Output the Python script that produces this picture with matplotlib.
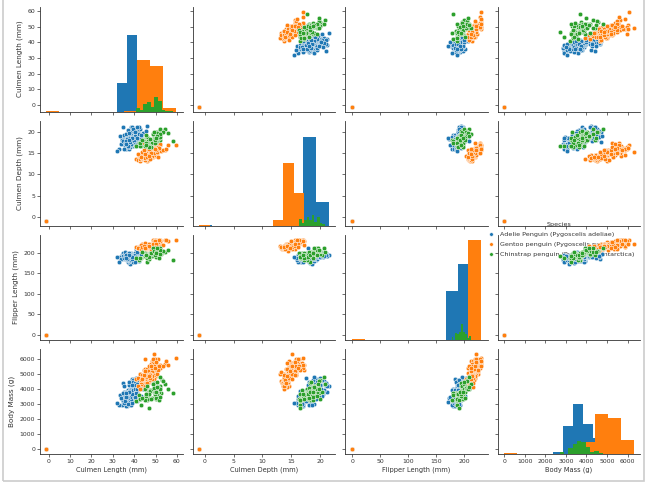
# Pairplot das medidas dos pinguins (dados ausentes preenchidos com -1)
import matplotlib
matplotlib.use('Agg')
import matplotlib.pyplot as plt
from matplotlib.lines import Line2D
from matplotlib.patches import Rectangle
from matplotlib.ticker import MultipleLocator

species = ['Adelie Penguin (Pygoscelis adeliae)',
           'Gentoo penguin (Pygoscelis papua)',
           'Chinstrap penguin (Pygoscelis antarctica)']
colors = ['#1f77b4', '#ff7f0e', '#2ca02c']
variables = ['Culmen Length (mm)', 'Culmen Depth (mm)', 'Flipper Length (mm)', 'Body Mass (g)']
tick_steps = [10, 5, 50, 1000]

#####  Adelie  #####
adelie_length = [
    39.1, 39.5, 40.3, -1, 36.7, 39.3, 38.9, 39.2, 34.1, 42.0,
    37.8, 37.8, 41.1, 38.6, 34.6, 36.6, 38.7, 42.5, 34.4, 46.0,
    37.8, 37.7, 35.9, 38.2, 38.8, 35.3, 40.6, 40.5, 37.9, 40.5,
    39.5, 37.2, 39.5, 40.9, 36.4, 39.2, 38.8, 42.2, 37.6, 39.8,
    36.5, 40.8, 36.0, 44.1, 37.0, 39.6, 41.1, 37.5, 36.0, 42.3,
    39.6, 40.1, 35.0, 42.0, 34.5, 41.4, 39.0, 40.6, 36.5, 37.6,
    35.7, 41.3, 37.6, 41.1, 36.4, 41.6, 35.5, 41.1, 35.9, 41.8,
    33.5, 39.7, 39.6, 45.8, 35.5, 42.8, 40.9, 37.2, 36.2, 42.1,
    34.6, 42.9, 36.7, 35.1, 37.3, 41.3, 36.3, 36.9, 38.3, 38.9,
    35.7, 41.1, 34.0, 39.6, 36.2, 40.8, 38.1, 40.3, 33.1, 43.2,
    35.0, 41.0, 37.7, 37.8, 37.9, 39.7, 38.6, 38.2, 38.1, 43.2,
    38.1, 45.6, 39.7, 42.2, 39.6, 42.7, 38.6, 37.3, 35.7, 41.1,
    36.2, 37.7, 40.2, 41.4, 35.2, 40.6, 38.8, 41.5, 39.0, 44.1,
    38.5, 43.1, 36.8, 37.5, 38.1, 41.1, 35.6, 40.2, 37.0, 39.7,
    40.2, 40.6, 32.1, 40.7, 37.3, 39.0, 39.2, 36.6, 36.0, 37.8,
    36.0, 41.5]
adelie_depth = [
    18.7, 17.4, 18.0, -1, 19.3, 20.6, 17.8, 19.6, 18.1, 20.2,
    17.1, 17.3, 17.6, 21.2, 21.1, 17.8, 19.0, 20.7, 18.4, 21.5,
    18.3, 18.7, 19.2, 18.1, 17.2, 18.9, 18.6, 17.9, 18.6, 18.9,
    16.7, 18.1, 17.8, 18.9, 17.0, 21.1, 20.0, 18.5, 19.3, 19.1,
    18.0, 18.4, 18.5, 19.7, 16.9, 18.8, 19.0, 18.9, 17.9, 21.2,
    17.7, 18.9, 17.9, 19.5, 18.1, 18.6, 17.5, 18.8, 16.6, 19.1,
    16.9, 21.1, 17.0, 18.2, 17.1, 18.0, 16.2, 19.1, 16.6, 19.4,
    19.0, 18.4, 17.2, 18.9, 17.5, 18.5, 16.8, 19.4, 16.1, 19.1,
    17.2, 17.6, 18.8, 19.4, 17.8, 20.3, 19.5, 18.6, 19.2, 18.8,
    18.0, 18.1, 17.1, 18.1, 17.3, 18.9, 18.6, 18.5, 16.1, 18.5,
    17.9, 20.0, 16.0, 20.0, 18.6, 18.9, 17.2, 20.0, 17.0, 19.0,
    16.5, 20.3, 17.7, 19.5, 20.7, 18.3, 17.0, 20.5, 17.0, 18.6,
    17.2, 19.8, 17.0, 18.5, 15.9, 19.0, 17.6, 18.3, 17.1, 18.0,
    17.9, 19.2, 18.5, 18.5, 17.6, 17.5, 17.5, 20.1, 16.5, 17.9,
    17.1, 17.2, 15.5, 17.0, 16.8, 18.7, 18.6, 18.4, 17.8, 18.1,
    17.1, 18.5]
adelie_flipper = [
    181, 186, 195, -1, 193, 190, 181, 195, 193, 190,
    186, 180, 182, 191, 198, 185, 195, 197, 184, 194,
    174, 180, 189, 185, 180, 187, 183, 187, 172, 180,
    178, 178, 188, 184, 195, 196, 190, 180, 181, 184,
    182, 195, 186, 196, 185, 190, 182, 179, 190, 191,
    186, 188, 190, 200, 187, 191, 186, 193, 181, 194,
    185, 195, 185, 192, 184, 192, 195, 188, 190, 198,
    190, 190, 196, 197, 190, 195, 191, 184, 187, 195,
    189, 196, 187, 193, 191, 194, 190, 189, 189, 190,
    202, 205, 185, 186, 187, 208, 190, 196, 178, 192,
    192, 203, 183, 190, 193, 184, 199, 190, 181, 197,
    198, 191, 193, 197, 191, 196, 188, 199, 189, 189,
    187, 198, 176, 202, 186, 199, 191, 195, 191, 210,
    190, 197, 193, 199, 187, 190, 191, 200, 185, 193,
    193, 187, 188, 190, 192, 185, 190, 184, 195, 193,
    187, 201]
adelie_mass = [
    3750, 3800, 3250, -1, 3450, 3650, 3625, 4675, 3475, 4250,
    3300, 3700, 3200, 3800, 4400, 3700, 3450, 4500, 3325, 4200,
    3400, 3600, 3800, 3950, 3800, 3800, 3550, 3200, 3150, 3950,
    3250, 3900, 3300, 3900, 3325, 4150, 3950, 3550, 3300, 4650,
    3150, 3900, 3100, 4400, 3000, 4600, 3425, 2975, 3450, 4150,
    3500, 4300, 3450, 4050, 2900, 3700, 3550, 3800, 2850, 3750,
    3150, 4400, 3600, 4050, 2850, 3950, 3350, 4100, 3050, 4450,
    3600, 3900, 3550, 4150, 3700, 4250, 3700, 3900, 3550, 4000,
    3200, 4700, 3800, 4200, 3350, 3550, 3800, 3500, 3950, 3600,
    3550, 4300, 3400, 4450, 3300, 4300, 3700, 4350, 2900, 4100,
    3725, 4725, 3075, 4250, 2925, 3550, 3750, 3900, 3175, 4775,
    3825, 4600, 3200, 4275, 3900, 4075, 2900, 3775, 3350, 3325,
    3150, 3500, 3450, 3875, 3050, 4000, 3275, 4300, 3050, 4000,
    3325, 3500, 3500, 4475, 3425, 3900, 3175, 3975, 3400, 4250,
    3400, 3475, 3050, 3725, 3000, 3650, 4250, 3475, 3450, 3750,
    3700, 4000]

#####  Gentoo  #####
gentoo_length = [
    46.1, 50.0, 48.7, 50.0, 47.6, 46.5, 45.4, 46.7, 43.3, 46.8,
    40.9, 49.0, 45.5, 48.4, 45.8, 49.3, 42.0, 49.2, 46.2, 48.7,
    50.2, 45.1, 46.5, 46.3, 42.9, 46.1, 44.5, 47.8, 48.2, 50.0,
    47.3, 42.8, 45.1, 59.6, 49.1, 48.4, 42.6, 44.4, 44.0, 48.7,
    42.7, 49.6, 45.3, 49.6, 50.5, 43.6, 45.5, 50.5, 44.9, 45.2,
    46.6, 48.5, 45.1, 50.1, 46.5, 45.0, 43.8, 45.5, 43.2, 50.4,
    45.3, 46.2, 45.7, 54.3, 45.8, 49.8, 46.2, 49.5, 43.5, 50.7,
    47.7, 46.4, 48.2, 46.5, 46.4, 48.6, 47.5, 51.1, 45.2, 45.2,
    49.1, 52.5, 47.4, 50.0, 44.9, 50.8, 43.4, 51.3, 47.5, 52.1,
    47.5, 52.2, 45.5, 49.5, 44.5, 50.8, 49.4, 46.9, 48.4, 51.1,
    48.5, 55.9, 47.2, 49.1, 47.3, 46.8, 41.7, 53.4, 43.3, 48.1,
    50.5, 49.8, 43.5, 51.5, 46.2, 55.1, 44.5, 48.8, 47.2, -1,
    46.8, 50.4, 45.2, 49.9]
gentoo_depth = [
    13.2, 16.3, 14.1, 15.2, 14.5, 13.5, 14.6, 15.3, 13.4, 15.4,
    13.7, 16.1, 13.7, 14.6, 14.6, 15.7, 13.5, 15.2, 14.5, 15.1,
    14.3, 14.5, 14.5, 15.8, 13.1, 15.1, 14.3, 15.0, 14.3, 15.3,
    15.3, 14.2, 14.5, 17.0, 14.8, 16.3, 13.7, 17.3, 13.6, 15.7,
    13.7, 16.0, 13.7, 15.0, 15.9, 13.9, 13.9, 15.9, 13.3, 15.8,
    14.2, 14.1, 14.4, 15.0, 14.4, 15.4, 13.9, 15.0, 14.5, 15.3,
    13.8, 14.9, 13.9, 15.7, 14.2, 16.8, 14.4, 16.2, 14.2, 15.0,
    15.0, 15.6, 15.6, 14.8, 15.0, 16.0, 14.2, 16.3, 13.8, 16.4,
    14.5, 15.6, 14.6, 15.9, 13.8, 17.3, 14.4, 14.2, 14.0, 17.0,
    15.0, 17.1, 14.5, 16.1, 14.7, 15.7, 15.8, 14.6, 14.4, 16.5,
    15.0, 17.0, 15.5, 15.0, 13.8, 16.1, 14.7, 15.8, 14.0, 15.1,
    15.2, 15.9, 15.2, 16.3, 14.1, 16.0, 15.7, 16.2, 13.7, -1,
    14.3, 15.7, 14.8, 16.1]
gentoo_flipper = [
    211, 230, 210, 218, 215, 210, 211, 219, 209, 215,
    214, 216, 214, 213, 210, 217, 210, 221, 209, 222,
    218, 215, 213, 215, 215, 215, 216, 215, 210, 220,
    222, 209, 207, 230, 220, 220, 213, 219, 208, 208,
    208, 225, 210, 216, 222, 217, 210, 225, 213, 215,
    210, 220, 210, 225, 217, 220, 208, 220, 208, 224,
    208, 221, 214, 231, 219, 230, 214, 229, 220, 223,
    216, 221, 221, 217, 216, 230, 209, 220, 215, 223,
    212, 221, 212, 224, 212, 228, 218, 218, 212, 230,
    218, 228, 212, 224, 214, 226, 216, 222, 203, 225,
    219, 228, 215, 228, 216, 215, 210, 219, 208, 209,
    216, 229, 213, 230, 217, 230, 217, 222, 214, -1,
    215, 222, 212, 213]
gentoo_mass = [
    4500, 5700, 4450, 5700, 5400, 4550, 4800, 5200, 4400, 5150,
    4650, 5550, 4650, 5850, 4200, 5850, 4150, 6300, 4800, 5350,
    5700, 5000, 4400, 5050, 5000, 5100, 4100, 5650, 4600, 5550,
    5250, 4700, 5050, 6050, 5150, 5400, 4950, 5250, 4350, 5350,
    3950, 5700, 4300, 4750, 5550, 4900, 4200, 5400, 5100, 5300,
    4850, 5300, 4400, 5000, 4900, 5050, 4300, 5000, 4450, 5550,
    4200, 5300, 4400, 5650, 4700, 5700, 4650, 5800, 4700, 5550,
    4750, 5000, 5100, 5200, 4700, 5800, 4600, 6000, 4750, 5950,
    4625, 5450, 4725, 5350, 4750, 5600, 4600, 5300, 4875, 5550,
    4950, 5400, 4750, 5650, 4850, 5200, 4925, 4875, 4625, 5250,
    4850, 5600, 4975, 5500, 4725, 5500, 4700, 5500, 4575, 5500,
    5000, 5950, 4650, 5500, 4375, 5850, 4875, 6000, 4925, -1,
    4850, 5750, 5200, 5400]

#####  Chinstrap  #####
chinstrap_length = [
    46.5, 50.0, 51.3, 45.4, 52.7, 45.2, 46.1, 51.3, 46.0, 51.3,
    46.6, 51.7, 47.0, 52.0, 45.9, 50.5, 50.3, 58.0, 46.4, 49.2,
    42.4, 48.5, 43.2, 50.6, 46.7, 52.0, 50.5, 49.5, 46.4, 52.8,
    40.9, 54.2, 42.5, 51.0, 49.7, 47.5, 47.6, 52.0, 46.9, 53.5,
    49.0, 46.2, 50.9, 45.5, 50.9, 50.8, 50.1, 49.0, 51.5, 49.8,
    48.1, 51.4, 45.7, 50.7, 42.5, 52.2, 45.2, 49.3, 50.2, 45.6,
    51.9, 46.8, 45.7, 55.8, 43.5, 49.6, 50.8, 50.2]
chinstrap_depth = [
    17.9, 19.5, 19.2, 18.7, 19.8, 17.8, 18.2, 18.2, 18.9, 19.9,
    17.8, 20.3, 17.3, 18.1, 17.1, 19.6, 20.0, 17.8, 18.6, 18.2,
    17.3, 17.5, 16.6, 19.4, 17.9, 19.0, 18.4, 19.0, 17.8, 20.0,
    16.6, 20.8, 16.7, 18.8, 18.6, 16.8, 18.3, 20.7, 16.6, 19.9,
    19.5, 17.5, 19.1, 17.0, 17.9, 18.5, 17.9, 19.6, 18.7, 17.3,
    16.4, 19.0, 17.3, 19.7, 17.3, 18.8, 16.6, 19.9, 18.8, 19.4,
    19.5, 16.5, 17.0, 19.8, 18.1, 18.2, 19.0, 18.7]
chinstrap_flipper = [
    192, 196, 193, 188, 197, 198, 178, 197, 195, 198,
    193, 194, 185, 201, 190, 201, 197, 181, 190, 195,
    181, 191, 187, 193, 195, 197, 200, 200, 191, 205,
    187, 201, 187, 203, 195, 199, 195, 210, 192, 205,
    210, 187, 196, 196, 196, 201, 190, 212, 187, 198,
    199, 201, 193, 203, 187, 197, 191, 203, 202, 194,
    206, 189, 195, 207, 202, 193, 210, 198]
chinstrap_mass = [
    3500, 3900, 3650, 3525, 3725, 3950, 3250, 3750, 4150, 3700,
    3800, 3775, 3700, 4050, 3575, 4050, 3300, 3700, 3450, 4400,
    3600, 3400, 2900, 3800, 3300, 4150, 3400, 3800, 3700, 4550,
    3200, 4300, 3350, 4100, 3600, 3900, 3850, 4800, 2700, 4500,
    3950, 3650, 3550, 3500, 3675, 4450, 3400, 4300, 3250, 3675,
    3325, 3950, 3600, 4050, 3350, 3450, 3250, 4050, 3800, 3525,
    3950, 3650, 3650, 4000, 3400, 3775, 4100, 3775]

data = [
    [adelie_length, adelie_depth, adelie_flipper, adelie_mass],
    [gentoo_length, gentoo_depth, gentoo_flipper, gentoo_mass],
    [chinstrap_length, chinstrap_depth, chinstrap_flipper, chinstrap_mass],
]

plt.rcParams['font.family'] = 'DejaVu Sans'
fig, axes = plt.subplots(4, 4, figsize=(6.5, 4.86), dpi=100, sharex='col', sharey='row')
plt.subplots_adjust(left=0.0615, right=0.985, top=0.986, bottom=0.066, wspace=0.07, hspace=0.09)

# eixos gemeos da diagonal (histogramas com eixo y compartilhado)
diag_axes = []
for i in range(4):
    twin = axes[i, i].twinx()
    twin.set_axis_off()
    if diag_axes:
        twin.sharey(diag_axes[0])
    diag_axes.append(twin)

for i in range(4):
    for j in range(4):
        ax = axes[i, j]
        ax.set_facecolor('none')
        if i == j:
            for k in range(3):
                diag_axes[i].hist(data[k][i], bins=10, color=colors[k], label=species[k])
        else:
            for k in range(3):
                ax.scatter(data[k][j], data[k][i], s=11, color=colors[k],
                           edgecolor='white', linewidth=0.35, zorder=3)
        for side in ['top', 'right']:
            ax.spines[side].set_visible(False)
        for side in ['left', 'bottom']:
            ax.spines[side].set_linewidth(0.6)
            ax.spines[side].set_color('#333333')
        ax.tick_params(labelsize=4.4, length=2, width=0.5, pad=1.5, colors='#333333')
        ax.xaxis.set_major_locator(MultipleLocator(tick_steps[j]))
        ax.yaxis.set_major_locator(MultipleLocator(tick_steps[i]))

for i in range(4):
    axes[i, 0].set_ylabel(variables[i], fontsize=5.2, color='#333333', labelpad=3)
    axes[3, i].set_xlabel(variables[i], fontsize=4.8, color='#333333', labelpad=2)

handles = [Line2D([], [], marker='o', linestyle='', markersize=2.6, color=c,
                  markeredgecolor='white', markeredgewidth=0.3) for c in colors]
leg = fig.legend(handles, species, title='Species', loc='upper left',
                 bbox_to_anchor=(482 / 650, 1 - 219 / 486), frameon=False,
                 fontsize=4.6, title_fontsize=4.6, handletextpad=0.4,
                 labelspacing=0.75, borderaxespad=0)
plt.setp(leg.get_texts(), color='#333333')
leg.get_title().set_color('#333333')
leg.set_zorder(-1)

# moldura cinza da captura de tela
fig.patches.append(Rectangle((2.5 / 650, 5 / 486), 641.5 / 650, 490 / 486, transform=fig.transFigure,
                             fill=False, edgecolor='#cccccc', linewidth=1.2))

plt.savefig('out.png', dpi=100)
